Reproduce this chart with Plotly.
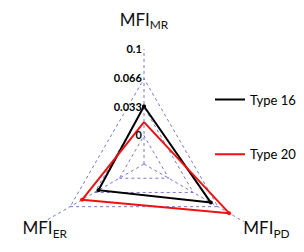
import plotly.graph_objects as go

categories = ["MFI<sub>MR</sub>", "MFI<sub>PD</sub>", "MFI<sub>ER</sub>"]
type16 = [0.034, 0.0565, 0.028]
type20 = [0.0156, 0.081, 0.050]
series_names = ["Type 16", "Type 20"]
series_colors = ["#000000", "#ee1111"]
tick_vals = [0, 0.033, 0.066, 0.1]
tick_text = ["0", "0.033", "0.066", "0.1"]
axis_max = 0.1

fig = go.Figure()
for i, (name, vals, col) in enumerate(zip(series_names, [type16, type20], series_colors)):
    fig.add_trace(go.Scatterpolar(
        r=vals + vals[:1], theta=categories + categories[:1],
        mode="lines", name=name, legendgroup=str(i),
        line=dict(color=col, width=2), cliponaxis=False,
    ))
    fig.add_trace(go.Scatterpolar(
        r=vals, theta=categories, mode="markers", showlegend=False,
        legendgroup=str(i), marker=dict(size=4, color=col), cliponaxis=False,
    ))

# labels of the two lower vertices
fig.add_trace(go.Scatterpolar(
    r=[axis_max, axis_max], theta=categories[1:], text=categories[1:],
    mode="text", textposition=["bottom right", "bottom center"],
    textfont=dict(size=17, color="#111111"), showlegend=False,
    hoverinfo="skip", cliponaxis=False,
))

grid = "#7878cc"
W, H = 296, 282
fig.update_layout(
    width=W, height=H,
    margin=dict(l=0, r=0, t=0, b=0, autoexpand=False),
    paper_bgcolor="white",
    font=dict(family="Lato, Carlito, Liberation Sans, sans-serif", color="#111111"),
    polar=dict(
        domain=dict(x=[21 / W, 251 / W], y=[(H - 271) / H, (H - 41) / H]),
        gridshape="linear",
        bgcolor="white",
        radialaxis=dict(
            range=[-0.033, 0.1004], tickvals=tick_vals, ticktext=tick_text,
            angle=90, side="counterclockwise", tickangle=90,
            showline=False, ticks="", gridcolor=grid, griddash="dot", gridwidth=1,
            tickfont=dict(size=11, color="#000000", family="Lato, sans-serif", weight="bold"),
        ),
        angularaxis=dict(
            rotation=90, direction="clockwise", showline=False,
            ticks="outside", ticklen=16, tickcolor="rgba(0,0,0,0)",
            tickmode="array", tickvals=categories,
            ticktext=[categories[0], "", ""],
            gridcolor=grid, griddash="dot", gridwidth=1,
            tickfont=dict(size=17, color="#111111"),
        ),
    ),
    legend=dict(x=202 / W, y=1 - 119 / H, xanchor="left", yanchor="middle",
                font=dict(size=13, color="#000000"), tracegroupgap=35,
                traceorder="grouped", bgcolor="rgba(0,0,0,0)"),
)

fig.write_html("out.html")
